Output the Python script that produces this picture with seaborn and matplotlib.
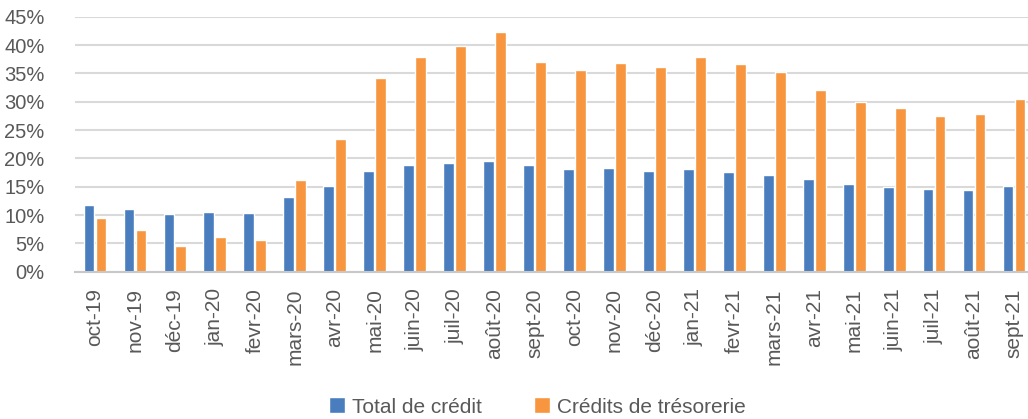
import numpy as np
import pandas as pd
import seaborn as sns
import matplotlib.pyplot as plt
from matplotlib.ticker import PercentFormatter

# data (in %)
months = ["oct-19", "nov-19", "déc-19", "jan-20", "fevr-20", "mars-20", "avr-20",
          "mai-20", "juin-20", "juil-20", "août-20", "sept-20", "oct-20", "nov-20",
          "déc-20", "jan-21", "fevr-21", "mars-21", "avr-21", "mai-21", "juin-21",
          "juil-21", "août-21", "sept-21"]
total_credit = [11.7, 11.1, 10.1, 10.5, 10.3, 13.1, 15.2, 17.8, 18.8, 19.2, 19.5, 18.8,
                18.2, 18.3, 17.8, 18.1, 17.6, 17.1, 16.3, 15.5, 14.9, 14.6, 14.5, 15.1]
credits_tresorerie = [9.4, 7.4, 4.5, 6.1, 5.6, 16.2, 23.5, 34.2, 37.8, 39.8, 42.3, 37.0,
                      35.6, 36.8, 36.2, 37.8, 36.6, 35.2, 32.1, 29.9, 28.9, 27.5, 27.9, 30.5]
series_names = ["Total de crédit", "Crédits de trésorerie"]

df = pd.DataFrame({"mois": months,
                   series_names[0]: total_credit,
                   series_names[1]: credits_tresorerie})
df = df.melt(id_vars="mois", var_name="serie", value_name="taux")

sns.set_style("white")
plt.rcParams["font.family"] = ["Liberation Sans", "DejaVu Sans"]

fig = plt.figure(figsize=(10.28, 4.19), dpi=100)
ax = fig.add_axes([75 / 1028, 1 - 271.7 / 419, (1028 - 75) / 1028, (271.7 - 16.7) / 419])

sns.barplot(data=df, x="mois", y="taux", hue="serie", order=months,
            hue_order=series_names, palette=["#4A7DBE", "#F7963F"], saturation=1,
            width=0.6, gap=0.1, ax=ax, legend=True)

ax.set_ylim(0, 45)
ax.set_xlim(-0.5, 23.35)
ax.set_yticks(np.arange(0, 46, 5))
ax.yaxis.set_major_formatter(PercentFormatter(decimals=0))
ax.set_xlabel("")
ax.set_ylabel("")
ax.grid(axis="y", color="#D9D9D9", linewidth=1.5)
ax.set_axisbelow(True)
for s in ["top", "right", "left"]:
    ax.spines[s].set_visible(False)
ax.spines["bottom"].set_color("#C8C8C8")
ax.spines["bottom"].set_linewidth(1.5)
ax.tick_params(axis="both", length=0, labelcolor="#595959")
ax.tick_params(axis="y", pad=22, labelsize=14.5)
ax.tick_params(axis="x", pad=12, labelsize=15)
plt.setp(ax.get_xticklabels(), rotation=90)

handles, labels = ax.get_legend_handles_labels()
ax.legend(handles, labels, loc="center", bbox_to_anchor=(537 / 1028, 1 - 407 / 419),
          bbox_transform=fig.transFigure, ncol=2, frameon=False, fontsize=15,
          labelcolor="#595959", handlelength=0.8, handleheight=0.8,
          handletextpad=0.3, columnspacing=2.5)

fig.savefig("out.png", dpi=100)
